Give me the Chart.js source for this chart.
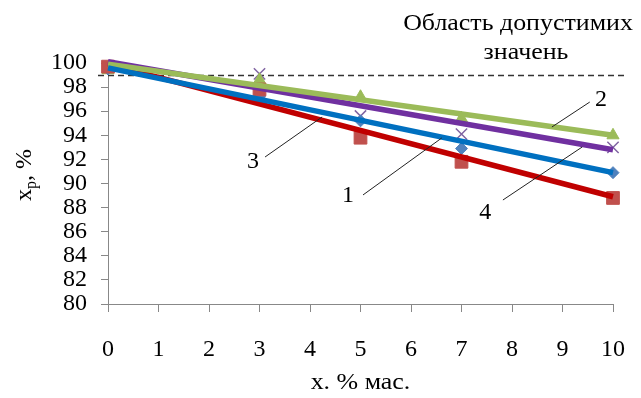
<!DOCTYPE html>
<html>
<head>
<meta charset="utf-8">
<script src="https://cdn.jsdelivr.net/npm/chart.js@4.4.1/dist/chart.umd.min.js"></script>
<style>
  html, body { margin: 0; padding: 0; background: #fff; }
  #wrap { width: 641px; height: 398px; position: relative; }
</style>
</head>
<body>
<div id="wrap"><canvas id="c" width="641" height="398"></canvas></div>
<script>
// ---- data ----
const xValues = [0, 3, 5, 7, 10];
const curve1Blue   = [99.5, 97.2, 95.2, 92.9, 90.9];
const curve2Green  = [99.4, 98.6, 97.2, 95.4, 94.0];
const curve3Red    = [99.7, 97.8, 93.8, 91.8, 88.8];
const curve4Purple = [99.6, 99.1, 95.6, 94.1, 93.0];
// linear trend lines: value at x = 0 and at x = 10
const trendX = [0, 10];
const trend1Blue   = [99.6, 90.9];
const trend2Green  = [99.9, 94.0];
const trend3Red    = [99.9, 88.9];
const trend4Purple = [100.1, 92.8];
const limitValue = 99;
const xTicks = [0,1,2,3,4,5,6,7,8,9,10];
const yTicks = [80,82,84,86,88,90,92,94,96,98,100];
const limitText = ['Область допустимих', 'значень'];
const xTitle = 'х. % мас.';
const curveLabels = ['1', '2', '3', '4'];

const FONT = '"Liberation Serif", "Times New Roman", serif';
const FS = 24;
const SX = 1.08; // slight horizontal stretch of the free texts

function pts(xs, ys) { return xs.map((x, i) => ({ x: x, y: ys[i] })); }

function markerSet(ys, style, fill, border, r, bw) {
  return { type: 'scatter', data: pts(xValues, ys), showLine: false, pointStyle: style,
    pointRadius: r, pointBackgroundColor: fill, pointBorderColor: border, pointBorderWidth: bw,
    order: 2, clip: false };
}
function trendSet(ys, color) {
  return { type: 'scatter', data: pts(trendX, ys), showLine: true, borderColor: color,
    borderWidth: 5.5, pointRadius: 0, fill: false, order: 1, clip: false };
}

function stretchedText(ctx, txt, x, y) {
  ctx.save();
  ctx.translate(x, y);
  ctx.scale(SX, 1);
  ctx.fillText(txt, 0, 0);
  ctx.restore();
}

const overlay = {
  id: 'overlay',
  beforeDatasetsDraw(chart) {
    const ctx = chart.ctx, xs = chart.scales.x, ys = chart.scales.y;
    const py = Math.round(ys.getPixelForValue(limitValue)) + 0.5;
    ctx.save();
    ctx.strokeStyle = '#333';
    ctx.lineWidth = 1.5;
    ctx.setLineDash([6, 4]);
    ctx.beginPath();
    ctx.moveTo(xs.left - 10, py);
    ctx.lineTo(xs.right + 12, py);
    ctx.stroke();
    ctx.restore();
  },
  afterDraw(chart) {
    const ctx = chart.ctx, xs = chart.scales.x, ys = chart.scales.y;
    const P = (x, y) => [xs.getPixelForValue(x), ys.getPixelForValue(y)];
    ctx.save();
    ctx.fillStyle = '#000';
    ctx.font = FS + 'px ' + FONT;
    ctx.textAlign = 'center';
    ctx.textBaseline = 'middle';
    // region text
    stretchedText(ctx, limitText[0], 518, 24);
    stretchedText(ctx, limitText[1], 526, 53);
    // x title
    stretchedText(ctx, xTitle, (xs.left + xs.right) / 2, 383);
    // y title, rotated, with subscript
    ctx.save();
    ctx.translate(25, 175);
    ctx.rotate(-Math.PI / 2);
    ctx.textAlign = 'left';
    ctx.textBaseline = 'alphabetic';
    const wx = ctx.measureText('x').width;
    ctx.font = '16px ' + FONT;
    const wp = ctx.measureText('p').width;
    ctx.font = FS + 'px ' + FONT;
    const wr = ctx.measureText(', %').width;
    const tot = wx + wp + wr;
    let cx = -tot / 2;
    ctx.fillText('x', cx, 6); cx += wx;
    ctx.font = '16px ' + FONT;
    ctx.fillText('p', cx, 11); cx += wp;
    ctx.font = FS + 'px ' + FONT;
    ctx.fillText(', %', cx, 6);
    ctx.restore();
    // curve labels with leader lines (data coordinates)
    const notes = [
      { t: curveLabels[0], at: [4.75, 88.95], a: [5.05, 89.05], b: [6.61, 93.78] },
      { t: curveLabels[1], at: [9.76, 96.95], a: [8.79, 94.69], b: [9.54, 96.76] },
      { t: curveLabels[2], at: [2.87, 91.8],  a: [3.11, 92.2],  b: [4.24, 95.52] },
      { t: curveLabels[3], at: [7.47, 87.6],  a: [7.82, 88.63], b: [9.39, 93.03] }
    ];
    ctx.strokeStyle = '#222';
    ctx.lineWidth = 1;
    notes.forEach(n => {
      const [lx, ly] = P(n.at[0], n.at[1]);
      ctx.fillText(n.t, lx, ly);
      const [ax, ay] = P(n.a[0], n.a[1]);
      const [bx, by] = P(n.b[0], n.b[1]);
      ctx.beginPath(); ctx.moveTo(ax, ay); ctx.lineTo(bx, by); ctx.stroke();
    });
    ctx.restore();
  }
};

new Chart(document.getElementById('c'), {
  type: 'scatter',
  data: {
    datasets: [
      markerSet(curve3Red, 'rect', '#C0504D', '#C0504D', 9, 1),
      markerSet(curve1Blue, 'rectRot', '#4F81BD', '#4F81BD', 6, 1),
      markerSet(curve2Green, 'triangle', '#9BBB59', '#9BBB59', 7, 1),
      markerSet(curve4Purple, 'crossRot', 'rgba(0,0,0,0)', '#8064A2', 8, 1.5),
      trendSet(trend1Blue, '#0070C0'),
      trendSet(trend2Green, '#9BBB59'),
      trendSet(trend4Purple, '#7030A0'),
      trendSet(trend3Red, '#C00000')
    ]
  },
  options: {
    responsive: false,
    animation: false,
    devicePixelRatio: 1,
    layout: { padding: { top: 63, right: 28, left: 0, bottom: 0 } },
    plugins: { legend: { display: false }, tooltip: { enabled: false } },
    scales: {
      x: {
        type: 'linear', min: 0, max: 10,
        afterBuildTicks(s) { s.ticks = xTicks.map(v => ({ value: v })); },
        afterFit(s) { s.height = 94; s.paddingLeft = 0; s.paddingRight = 0; },
        ticks: { color: '#000', font: { family: FONT, size: FS }, padding: 23, maxRotation: 0, autoSkip: false },
        grid: { display: true, drawOnChartArea: false, drawTicks: true, tickLength: 8, color: '#888' },
        border: { display: true, color: '#888', width: 1 }
      },
      y: {
        type: 'linear', min: 80, max: 100,
        afterBuildTicks(s) { s.ticks = yTicks.map(v => ({ value: v })); },
        afterFit(s) { s.width = 108; s.paddingTop = 0; s.paddingBottom = 0; },
        ticks: { color: '#000', font: { family: FONT, size: FS }, padding: 14, autoSkip: false },
        grid: { display: true, drawOnChartArea: false, drawTicks: true, tickLength: 7, color: '#888' },
        border: { display: true, color: '#888', width: 1 }
      }
    }
  },
  plugins: [overlay]
});
</script>
</body>
</html>
